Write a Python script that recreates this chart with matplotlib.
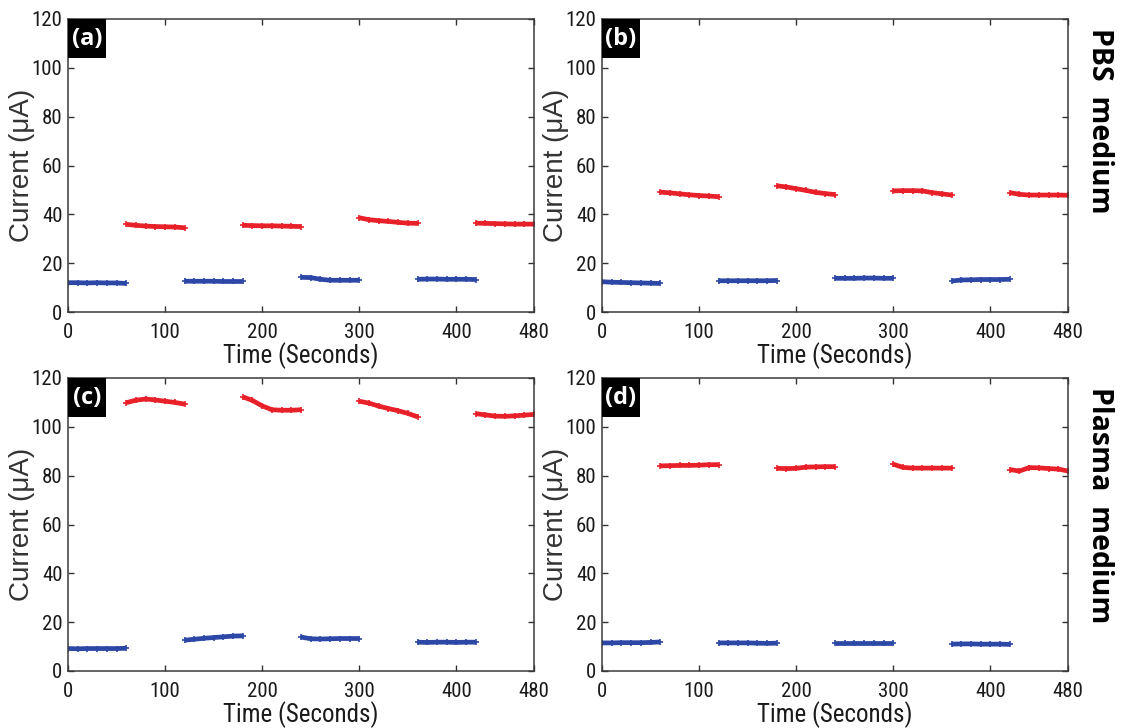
import matplotlib
matplotlib.use("Agg")
import matplotlib.pyplot as plt
from matplotlib import font_manager as fm
from matplotlib.patches import Rectangle

# sample times inside each 60 s step (seconds after the step starts)
step_t = [0, 10, 20, 30, 40, 50, 60]
blue_starts = [0, 120, 240, 360]
red_starts = [60, 180, 300, 420]

# panel (a) PBS
blue_a = [[12.0, 12.0, 11.9, 12.0, 11.9, 11.9, 11.7],
          [12.6, 12.6, 12.6, 12.6, 12.5, 12.5, 12.5],
          [14.2, 14.1, 13.4, 13.0, 13.0, 13.0, 13.0],
          [13.4, 13.5, 13.5, 13.4, 13.4, 13.4, 13.3]]
red_a = [[35.9, 35.5, 35.2, 35.0, 34.9, 34.8, 34.5],
         [35.5, 35.4, 35.3, 35.3, 35.2, 35.1, 35.0],
         [38.6, 37.8, 37.4, 37.1, 36.7, 36.4, 36.3],
         [36.4, 36.3, 36.2, 36.1, 36.0, 36.0, 36.0]]
# panel (b) PBS
blue_b = [[12.4, 12.2, 12.1, 12.0, 11.9, 11.8, 11.7],
          [12.8, 12.8, 12.8, 12.8, 12.8, 12.8, 12.9],
          [13.8, 13.8, 13.8, 13.9, 13.9, 13.8, 13.8],
          [12.7, 13.1, 13.2, 13.3, 13.3, 13.3, 13.4]]
red_b = [[49.1, 48.8, 48.4, 48.0, 47.7, 47.5, 47.2],
         [51.7, 51.2, 50.5, 49.8, 49.0, 48.5, 48.1],
         [49.6, 49.7, 49.7, 49.6, 48.9, 48.4, 47.9],
         [48.9, 48.2, 47.9, 47.9, 47.9, 47.9, 47.8]]
# panel (c) plasma
blue_c = [[9.2, 9.1, 9.2, 9.2, 9.2, 9.2, 9.3],
          [12.6, 13.0, 13.4, 13.7, 14.0, 14.3, 14.4],
          [13.9, 13.2, 13.1, 13.2, 13.3, 13.3, 13.3],
          [11.8, 11.7, 11.8, 11.8, 11.7, 11.8, 11.8]]
red_c = [[109.9, 110.9, 111.4, 111.0, 110.5, 110.0, 109.3],
         [112.3, 110.8, 108.6, 107.0, 106.8, 106.8, 107.0],
         [110.5, 109.7, 108.5, 107.5, 106.6, 105.5, 104.1],
         [105.4, 104.9, 104.4, 104.3, 104.5, 104.8, 105.1]]
# panel (d) plasma
blue_d = [[11.5, 11.5, 11.6, 11.6, 11.6, 11.7, 11.9],
          [11.5, 11.5, 11.5, 11.5, 11.4, 11.3, 11.4],
          [11.3, 11.3, 11.3, 11.3, 11.3, 11.3, 11.3],
          [11.0, 11.1, 11.1, 11.0, 11.0, 11.0, 10.9]]
red_d = [[84.0, 84.1, 84.2, 84.2, 84.3, 84.5, 84.5],
         [83.0, 82.9, 83.0, 83.5, 83.6, 83.7, 83.7],
         [84.7, 83.4, 83.1, 83.1, 83.1, 83.1, 83.1],
         [82.5, 81.9, 83.3, 83.2, 82.9, 82.7, 81.9]]

panel_tags = ["(a)", "(b)", "(c)", "(d)"]
xticks = [0, 100, 200, 300, 400, 480]
yticks = [0, 20, 40, 60, 80, 100, 120]

RED = "#e8202a"
BLUE = "#2d47a6"

# look for a narrow sans face (MATLAB figure uses Arial Narrow look)
narrow_path = None
for pref in ["Liberation Sans Narrow", "Roboto Condensed", "DejaVu Sans", "Noto Sans", "Open Sans"]:
    for f in fm.fontManager.ttflist:
        cond = ("Narrow" in f.name or "Condensed" in f.name or
                f.stretch in ("condensed", "semi-condensed"))
        if f.name.startswith(pref) and cond and f.style == "normal" \
                and f.weight in (400, "normal", "regular"):
            narrow_path = f.fname
            break
    if narrow_path:
        break

if narrow_path:
    tick_fp = fm.FontProperties(fname=narrow_path, size=15)
    xlab_fp = fm.FontProperties(fname=narrow_path, size=18)
else:
    tick_fp = fm.FontProperties(family="Liberation Sans", size=13.5)
    xlab_fp = fm.FontProperties(family="Liberation Sans", size=15)

fig = plt.figure(figsize=(11.24, 7.28), dpi=100)
lefts = [68 / 1124, 602 / 1124]
bottoms = [1 - 312 / 728, 1 - 671 / 728]
w = 466 / 1124
h = 293 / 728

data = [(blue_a, red_a), (blue_b, red_b), (blue_c, red_c), (blue_d, red_d)]
for i, (blues, reds) in enumerate(data):
    ax = fig.add_axes([lefts[i % 2], bottoms[i // 2], w, h])
    for start, vals in zip(blue_starts, blues):
        ax.plot([start + t for t in step_t], vals, color=BLUE, lw=3.4,
                marker="+", ms=5, mew=1.2, solid_capstyle="butt")
    for start, vals in zip(red_starts, reds):
        ax.plot([start + t for t in step_t], vals, color=RED, lw=3.4,
                marker="+", ms=5, mew=1.2, solid_capstyle="butt")
    ax.set_xlim(0, 480)
    ax.set_ylim(0, 120)
    ax.set_xticks(xticks)
    ax.set_yticks(yticks)
    ax.tick_params(direction="in", top=True, right=True, length=4, width=1,
                   color="#333333", pad=4)
    ax.tick_params(axis="x", pad=8)
    for lab in ax.get_xticklabels() + ax.get_yticklabels():
        lab.set_fontproperties(tick_fp)
        lab.set_color("#1a1a1a")
    for sp in ax.spines.values():
        sp.set_color("#3a3a3a")
        sp.set_linewidth(1.1)
    ax.set_xlabel("Time (Seconds)", fontproperties=xlab_fp, color="#1a1a1a",
                  labelpad=0)
    ax.set_ylabel("Current (\u03bcA)", family=["Liberation Sans", "DejaVu Sans"],
                  fontsize=20, color="#333333", va="center")
    ax.yaxis.set_label_coords(-46 / 466, 0.5)

    # black tag box in the upper-left corner
    ax.add_patch(Rectangle((0, 1 - 39 / 293), 38 / 466, 39 / 293,
                           transform=ax.transAxes, fc="black", ec="none",
                           zorder=5, clip_on=False))
    ax.text(19 / 466, 1 - 20 / 293, panel_tags[i], transform=ax.transAxes,
            ha="center", va="center", color="white", fontsize=17,
            fontweight="bold", family="Open Sans", zorder=6)

fig.text(1099 / 1124, 1 - 28 / 728, "PBS  medium", rotation=270, ha="center",
         va="top", fontsize=20.5, fontweight="bold", family="Open Sans")
fig.text(1099 / 1124, 1 - 387 / 728, "Plasma  medium", rotation=270, ha="center",
         va="top", fontsize=20.5, fontweight="bold", family="Open Sans")

fig.savefig("out.png", dpi=100)
